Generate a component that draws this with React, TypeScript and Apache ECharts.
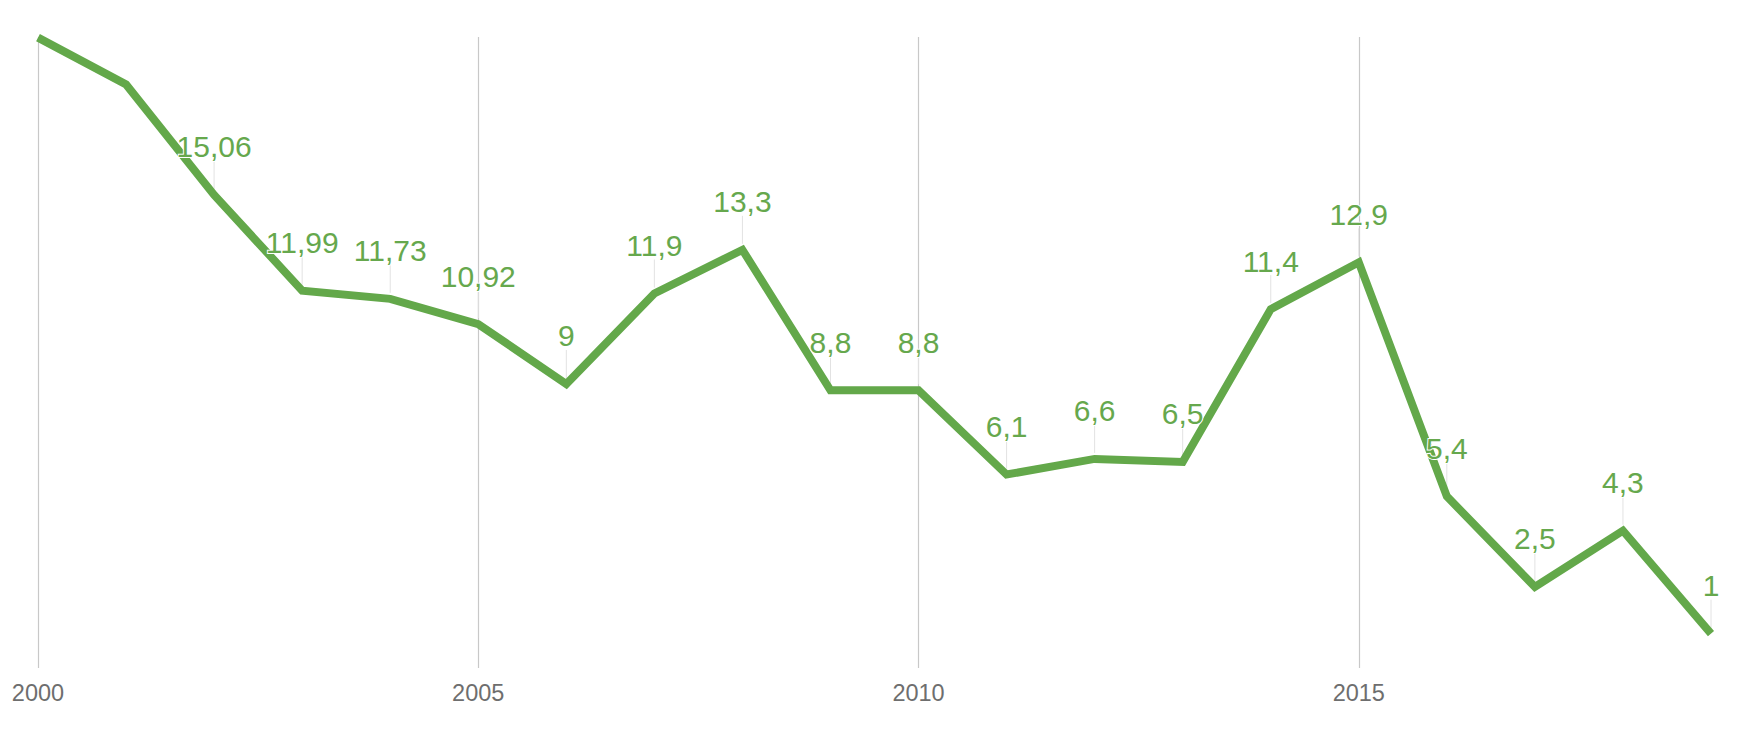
import React, { useEffect, useRef } from "react";
import * as echarts from "echarts";

const years = ["2000","2001","2002","2003","2004","2005","2006","2007","2008","2009","2010","2011","2012","2013","2014","2015","2016","2017","2018","2019"];
const values = [20.1, 18.6, 15.06, 11.99, 11.73, 10.92, 9, 11.9, 13.3, 8.8, 8.8, 6.1, 6.6, 6.5, 11.4, 12.9, 5.4, 2.5, 4.3, 1];
const labelled = [false, false, true, true, true, true, true, true, true, true, true, true, true, true, true, true, true, true, true, true];

const GREEN = "#63a84a";

export default function App() {
  const ref = useRef<HTMLDivElement>(null);
  useEffect(() => {
    const chart = echarts.init(ref.current!, null, { renderer: "svg" });
    chart.setOption({
      animation: false,
      grid: { left: 38, right: 38, top: 37, bottom: 74 },
      xAxis: {
        type: "category",
        data: years,
        boundaryGap: false,
        axisLine: { show: false },
        axisTick: { show: false },
        axisLabel: {
          interval: (i: number) => i % 5 === 0,
          color: "#6e6e6e",
          fontSize: 23.5,
          fontFamily: "Liberation Sans, Arial, sans-serif",
          margin: 13,
        },
        splitLine: {
          show: true,
          interval: (i: number) => i % 5 === 0,
          lineStyle: { color: "#c8c8c8", width: 1.2 },
        },
      },
      yAxis: {
        type: "value",
        min: -0.1,
        max: 20.12,
        show: false,
        splitLine: { show: false },
      },
      series: [
        {
          type: "custom",
          data: values.map((v, i) => [i, v]),
          renderItem: (params: any, api: any) => {
            const i = api.value(0);
            if (!labelled[i]) return null;
            const p = api.coord([i, api.value(1)]);
            return {
              type: "line",
              shape: { x1: p[0], y1: p[1] - 6, x2: p[0], y2: p[1] - 34 },
              style: { stroke: "#e2e2e2", lineWidth: 1 },
            };
          },
          silent: true,
          z: 1,
        },
        {
          type: "line",
          data: values.map((v, i) => ({
            value: v,
            label: { show: labelled[i] },
          })),
          symbol: "circle",
          symbolSize: 0.1,
          showSymbol: true,
          lineStyle: { color: GREEN, width: 8, join: "miter" },
          itemStyle: { color: GREEN },
          z: 2,
          label: {
            show: true,
            position: "top",
            distance: 33,
            color: "#66a84d",
            fontSize: 30,
            fontFamily: "Liberation Sans, Arial, sans-serif",
            textBorderColor: "#ffffff",
            textBorderWidth: 2,
            formatter: (p: any) => String(p.value).replace(".", ","),
          },
        },
      ],
    });
    return () => chart.dispose();
  }, []);
  return (
    <div
      ref={ref}
      style={{ position: "fixed", left: 0, top: 0, width: 1749, height: 742, background: "#fff" }}
    />
  );
}
